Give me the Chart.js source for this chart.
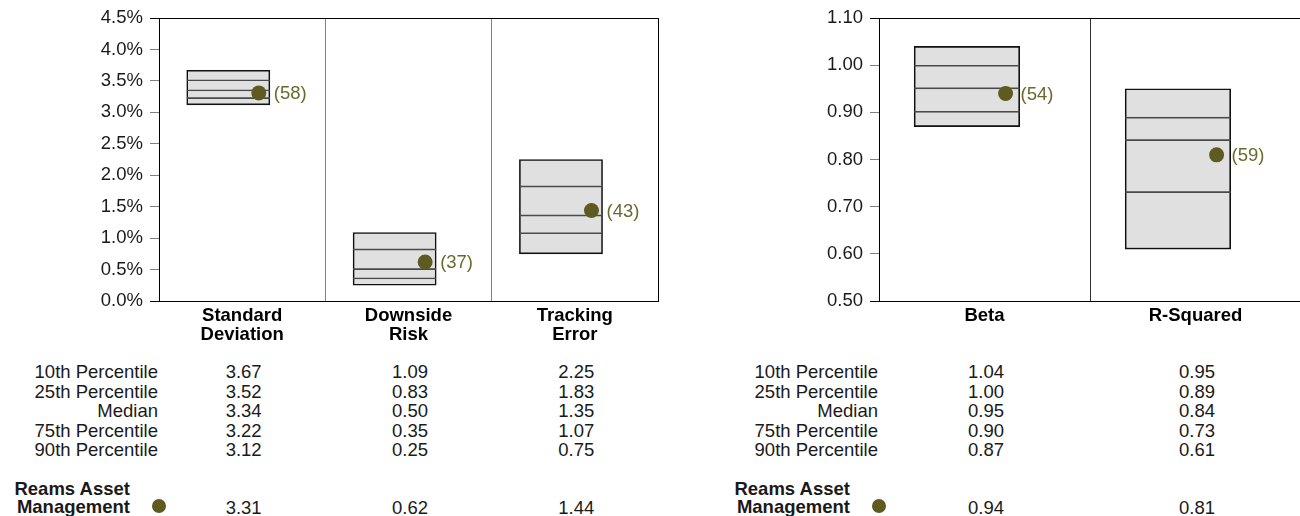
<!DOCTYPE html>
<html>
<head>
<meta charset="utf-8">
<script src="https://cdn.jsdelivr.net/npm/chart.js@4.4.1/dist/chart.umd.min.js"></script>
<style>
  body {
    margin: 0;
    width: 1300px;
    height: 516px;
    overflow: hidden;
    position: relative;
    background: #fff;
    font-family: 'Liberation Sans', Arial, Helvetica, sans-serif;
    color: #1a1a1a;
  }
  .panel { position: absolute; top: 0; }
  .cell {
    position: absolute;
    font-size: 18.5px;
    line-height: 19px;
    white-space: nowrap;
  }
  .cell.right { transform: translateX(-100%); text-align: right; }
  .cell.center { transform: translateX(-50%); }
  .cell.name { font-weight: bold; line-height: 18px; }
  .dot {
    position: absolute;
    width: 14px;
    height: 14px;
    border-radius: 50%;
    background: #5d5b22;
    transform: translate(-50%, -50%);
  }
</style>
</head>
<body>
<canvas id="leftChart" class="panel" width="680" height="350" style="left:0px"></canvas>
<canvas id="rightChart" class="panel" width="600" height="350" style="left:720px"></canvas>
<div id="table"></div>

<script>
// ---- data ----
const rowLabels = ['10th Percentile', '25th Percentile', 'Median', '75th Percentile', '90th Percentile'];
const managerName = ['Reams Asset', 'Management'];

const riskCategories = [['Standard', 'Deviation'], ['Downside', 'Risk'], ['Tracking', 'Error']];
const riskP10 = [3.67, 1.09, 2.25];
const riskP25 = [3.52, 0.83, 1.83];
const riskMedian = [3.34, 0.50, 1.35];
const riskP75 = [3.22, 0.35, 1.07];
const riskP90 = [3.12, 0.25, 0.75];
const riskManager = [3.31, 0.62, 1.44];
const riskRanks = [58, 37, 43];

const marketCategories = [['Beta'], ['R-Squared']];
const marketP10 = [1.04, 0.95];
const marketP25 = [1.00, 0.89];
const marketMedian = [0.95, 0.84];
const marketP75 = [0.90, 0.73];
const marketP90 = [0.87, 0.61];
const marketManager = [0.94, 0.81];
const marketRanks = [54, 59];

// ---- styling ----
const FONT = "'Liberation Sans', Arial, Helvetica, sans-serif";
const DOT_COLOR = '#5d5b22';
const RANK_COLOR = '#6b692e';
const BOX_FILL = '#e0e0e0';
const BOX_EDGE = '#111';
const INNER_LINE = '#4a4a4a';
const BOX_POS = 5 / 12;   // box centre inside each category slot
const DOT_POS = 0.6;      // manager dot inside each category slot
const ROW_TOP = 362;
const ROW_STEP = 19.6;

Chart.defaults.font.family = FONT;
Chart.defaults.font.size = 18.5;
Chart.defaults.color = '#1a1a1a';

// rank "(nn)" next to each manager dot
const rankLabels = {
    id: 'rankLabels',
    afterDatasetsDraw(chart, args, opts) {
        const meta = chart.getDatasetMeta(0);
        const ctx = chart.ctx;
        ctx.save();
        ctx.font = '18.5px ' + FONT;
        ctx.fillStyle = RANK_COLOR;
        ctx.textBaseline = 'middle';
        ctx.textAlign = 'left';
        meta.data.forEach((pt, i) => {
            ctx.fillText('(' + opts.ranks[i] + ')', pt.x + 15, pt.y + 1);
        });
        ctx.restore();
    }
};

function tickValue(ctx) {
    return ctx.tick ? ctx.tick.value : null;
}

function isTop(ctx) {
    const v = tickValue(ctx);
    return v !== null && Math.abs(v - ctx.scale.max) < 1e-9;
}

function isEdge(ctx) {
    const v = tickValue(ctx);
    return v !== null && (Math.abs(v - ctx.scale.max) < 1e-9 || Math.abs(v - ctx.scale.min) < 1e-9);
}

function buildPanel(canvasId, p) {
    const n = p.categories.length;
    const boxes = p.p90.map((v, i) => ({ x: i + BOX_POS, y: [v, p.p10[i]] }));
    const quartiles = p.p75.map((v, i) => ({ x: i + BOX_POS, y: [v, p.p25[i]] }));
    const medians = p.median.map((v, i) => ({ x: i + BOX_POS, y: [v, p.p10[i]] }));
    const dots = p.manager.map((v, i) => ({ x: i + DOT_POS, y: v }));

    const barCommon = {
        type: 'bar',
        grouped: false,
        barPercentage: 1,
        categoryPercentage: 1,
        borderSkipped: false
    };

    return new Chart(document.getElementById(canvasId), {
        type: 'bar',
        data: {
            datasets: [
                {
                    type: 'scatter',
                    label: 'Manager',
                    data: dots,
                    order: 0,
                    pointRadius: 7.5,
                    pointHoverRadius: 7.5,
                    backgroundColor: DOT_COLOR,
                    borderWidth: 0
                },
                Object.assign({}, barCommon, {
                    label: 'Median',
                    data: medians,
                    order: 1,
                    backgroundColor: 'rgba(0,0,0,0)',
                    borderColor: INNER_LINE,
                    borderWidth: { top: 0, right: 0, bottom: 1, left: 0 }
                }),
                Object.assign({}, barCommon, {
                    label: 'Quartiles',
                    data: quartiles,
                    order: 2,
                    backgroundColor: 'rgba(0,0,0,0)',
                    borderColor: INNER_LINE,
                    borderWidth: { top: 1, right: 0, bottom: 1, left: 0 }
                }),
                Object.assign({}, barCommon, {
                    label: 'Range',
                    data: boxes,
                    order: 3,
                    backgroundColor: BOX_FILL,
                    borderColor: BOX_EDGE,
                    borderWidth: 1.6
                })
            ]
        },
        options: {
            responsive: false,
            animation: false,
            events: [],
            layout: { padding: { top: 17, right: p.rightPad, left: 0, bottom: 0 } },
            plugins: {
                legend: { display: false },
                tooltip: { enabled: false },
                rankLabels: { ranks: p.ranks }
            },
            scales: {
                x: {
                    type: 'linear',
                    min: 0,
                    max: n,
                    offset: false,
                    afterBuildTicks: axis => {
                        axis.ticks = [];
                        for (let k = 0; k <= n * 2; k++) axis.ticks.push({ value: k / 2 });
                    },
                    ticks: {
                        autoSkip: false,
                        maxRotation: 0,
                        padding: 6,
                        color: '#000',
                        font: { weight: 'bold', lineHeight: 1 },
                        callback: v => (v % 1 === 0.5 ? p.categories[Math.floor(v)] : '')
                    },
                    grid: {
                        offset: false,
                        drawTicks: false,
                        color: ctx => {
                            const v = tickValue(ctx);
                            if (v === null || v % 1 !== 0) return 'rgba(0,0,0,0)';
                            return (v === 0 || v === n) ? '#000' : p.dividerColor;
                        }
                    },
                    border: { color: '#000' },
                    afterFit: axis => { axis.height = 49; }
                },
                y: {
                    min: p.yMin,
                    max: p.yMax,
                    ticks: {
                        stepSize: p.yStep,
                        padding: 7,
                        color: '#1a1a1a',
                        callback: p.format
                    },
                    grid: {
                        tickLength: 9,
                        color: ctx => (isTop(ctx) ? '#000' : 'rgba(0,0,0,0)'),
                        tickColor: ctx => (isEdge(ctx) ? '#000' : '#808080')
                    },
                    border: { color: '#000' },
                    afterFit: axis => { axis.width = 159; }
                }
            }
        },
        plugins: [rankLabels]
    });
}

function addCell(text, x, y, cls) {
    const el = document.createElement('div');
    el.className = 'cell ' + cls;
    el.style.left = x + 'px';
    el.style.top = y + 'px';
    el.innerHTML = text;
    document.getElementById('table').appendChild(el);
}

function buildTable(chart, offsetX, p) {
    const areaLeft = offsetX + chart.chartArea.left;
    const rows = [p.p10, p.p25, p.median, p.p75, p.p90];
    const colX = p.manager.map((v, i) => offsetX + chart.scales.x.getPixelForValue(i + 0.5) + 1.5);

    rowLabels.forEach((label, r) => {
        const top = ROW_TOP + r * ROW_STEP;
        addCell(label, areaLeft - 1, top, 'right');
        rows[r].forEach((v, i) => addCell(v.toFixed(2), colX[i], top, 'center'));
    });

    addCell(managerName.join('<br>'), areaLeft - 29, 479.5, 'right name');
    const dot = document.createElement('div');
    dot.className = 'dot';
    dot.style.left = areaLeft + 'px';
    dot.style.top = '506px';
    document.getElementById('table').appendChild(dot);
    p.manager.forEach((v, i) => addCell(v.toFixed(2), colX[i], 497.5, 'center'));
}

const riskPanel = {
    categories: riskCategories,
    p10: riskP10, p25: riskP25, median: riskMedian, p75: riskP75, p90: riskP90,
    manager: riskManager, ranks: riskRanks,
    yMin: 0, yMax: 4.5, yStep: 0.5,
    format: v => v.toFixed(1) + '%',
    dividerColor: '#808080',
    rightPad: 22
};

const marketPanel = {
    categories: marketCategories,
    p10: marketP10, p25: marketP25, median: marketMedian, p75: marketP75, p90: marketP90,
    manager: marketManager, ranks: marketRanks,
    yMin: 0.5, yMax: 1.1, yStep: 0.1,
    format: v => v.toFixed(2),
    dividerColor: '#333',
    rightPad: 19
};

const leftChart = buildPanel('leftChart', riskPanel);
const rightChart = buildPanel('rightChart', marketPanel);
buildTable(leftChart, 0, riskPanel);
buildTable(rightChart, 720, marketPanel);
</script>
</body>
</html>
